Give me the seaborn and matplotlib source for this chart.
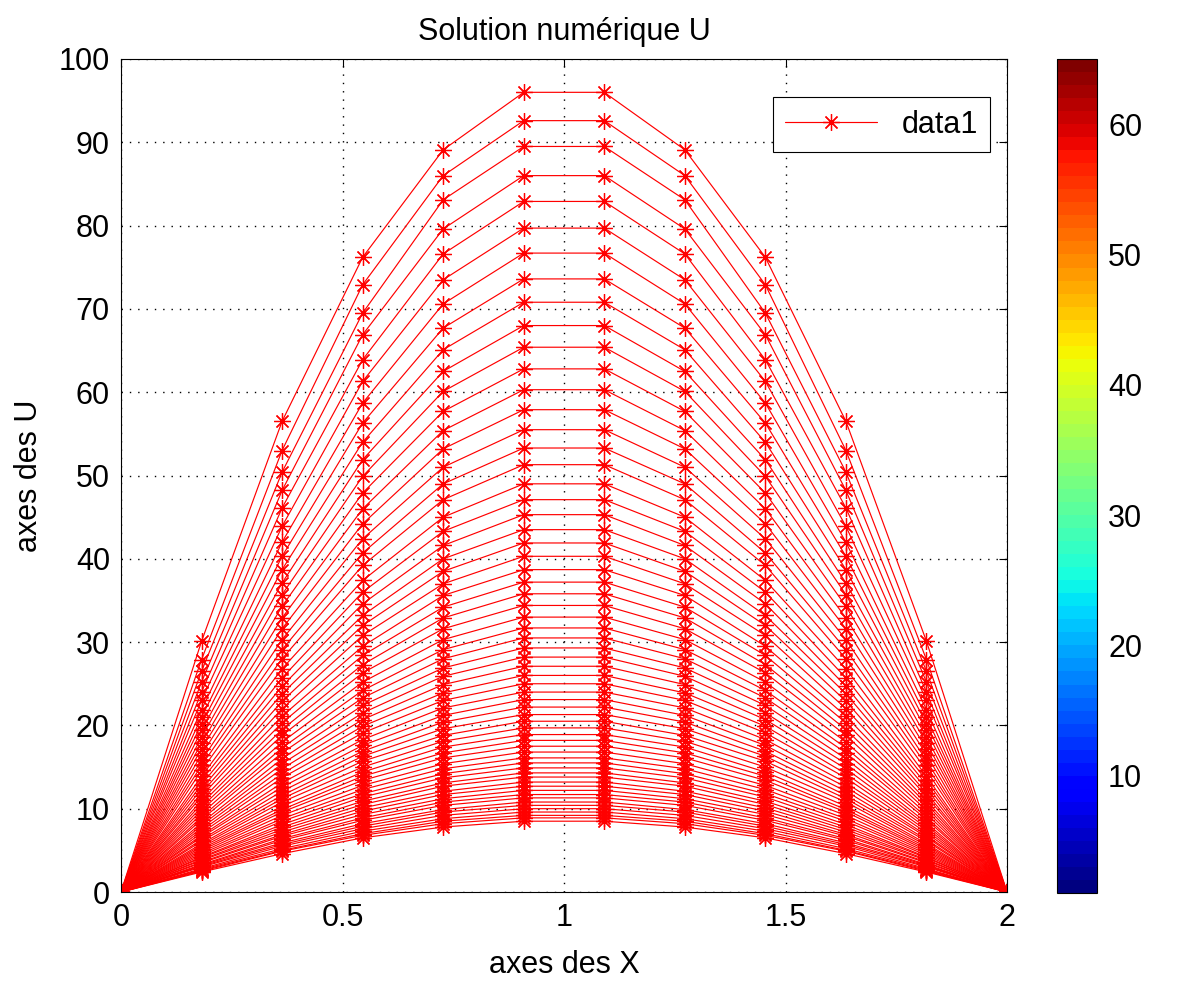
import matplotlib
matplotlib.use("Agg")

import matplotlib as mpl
import matplotlib.pyplot as plt
import pandas as pd
import seaborn as sns
from matplotlib.lines import Line2D


# x nodes of the grid (0 .. 2, 12 points)
x_nodes = [0.0, 0.1818, 0.3636, 0.5455, 0.7273, 0.9091,
           1.0909, 1.2727, 1.4545, 1.6364, 1.8182, 2.0]

# U read at the left half nodes, one value per time step (the right half is the mirror image)
u_x018 = [30.1, 27.9, 26.5, 25.2, 24.0, 23.0, 21.9, 21.0, 20.2, 19.4,
          18.6, 17.9, 17.2, 16.5, 15.8, 15.2, 14.6, 13.9, 13.4, 12.9,
          12.4, 11.9, 11.5, 11.0, 10.6, 10.2, 9.8, 9.4, 9.0, 8.7,
          8.3, 8.0, 7.7, 7.4, 7.1, 6.8, 6.6, 6.3, 6.1, 5.8,
          5.6, 5.4, 5.2, 5.0, 4.8, 4.6, 4.4, 4.2, 4.1, 3.9,
          3.8, 3.6, 3.5, 3.3, 3.2, 3.1, 3.0, 2.8, 2.7, 2.6,
          2.5, 2.4]
u_x036 = [56.5, 53.0, 50.4, 48.2, 46.1, 43.9, 42.0, 40.3, 38.7, 37.1,
          35.7, 34.3, 32.9, 31.6, 30.3, 29.1, 28.0, 26.8, 25.7, 24.7,
          23.8, 22.9, 22.0, 21.1, 20.3, 19.5, 18.8, 18.0, 17.3, 16.7,
          16.0, 15.4, 14.8, 14.2, 13.7, 13.1, 12.6, 12.1, 11.6, 11.2,
          10.8, 10.3, 9.9, 9.6, 9.2, 8.8, 8.5, 8.1, 7.8, 7.5,
          7.2, 6.9, 6.7, 6.4, 6.2, 5.9, 5.7, 5.5, 5.2, 5.0,
          4.9, 4.6]
u_x055 = [76.2, 72.9, 69.5, 66.9, 63.9, 61.3, 58.7, 56.3, 54.0, 51.9,
          49.9, 47.9, 46.0, 44.2, 42.4, 40.7, 39.2, 37.4, 36.0, 34.6,
          33.2, 32.0, 30.8, 29.5, 28.4, 27.3, 26.3, 25.2, 24.2, 23.3,
          22.4, 21.5, 20.7, 19.9, 19.1, 18.3, 17.6, 16.9, 16.3, 15.7,
          15.0, 14.4, 13.9, 13.4, 12.8, 12.3, 11.8, 11.4, 10.9, 10.5,
          10.1, 9.7, 9.3, 8.9, 8.6, 8.2, 7.9, 7.6, 7.3, 7.0,
          6.8, 6.5]
u_x073 = [89.1, 86.0, 83.1, 79.6, 76.6, 73.5, 70.6, 67.7, 65.1, 62.5,
          60.1, 57.7, 55.4, 53.2, 51.0, 49.0, 47.1, 45.0, 43.3, 41.6,
          40.0, 38.5, 37.0, 35.6, 34.2, 32.9, 31.6, 30.3, 29.1, 28.0,
          26.9, 25.9, 24.9, 23.9, 23.0, 22.1, 21.2, 20.4, 19.6, 18.8,
          18.1, 17.4, 16.7, 16.1, 15.4, 14.8, 14.2, 13.7, 13.1, 12.7,
          12.1, 11.7, 11.2, 10.8, 10.4, 9.9, 9.6, 9.2, 8.8, 8.5,
          8.2, 7.8]
u_x091 = [96.0, 92.6, 89.5, 86.0, 82.9, 79.7, 76.7, 73.6, 70.8, 68.0,
          65.4, 62.8, 60.3, 57.9, 55.5, 53.3, 51.3, 49.0, 47.1, 45.3,
          43.5, 41.9, 40.3, 38.7, 37.2, 35.8, 34.4, 33.0, 31.7, 30.5,
          29.3, 28.2, 27.1, 26.0, 25.0, 24.0, 23.1, 22.2, 21.3, 20.5,
          19.7, 18.9, 18.2, 17.5, 16.8, 16.1, 15.5, 14.9, 14.3, 13.8,
          13.2, 12.7, 12.2, 11.7, 11.3, 10.8, 10.4, 10.0, 9.6, 9.2,
          8.9, 8.5]

x_ticks = [0, 0.5, 1, 1.5, 2]
x_tick_labels = ["0", "0.5", "1", "1.5", "2"]
y_ticks = [0, 10, 20, 30, 40, 50, 60, 70, 80, 90, 100]
cbar_ticks = [10, 20, 30, 40, 50, 60]

ASTERISK = (8, 2, 0)
FONT = 22


def build_frame() -> pd.DataFrame:
    rows = []
    columns = zip(u_x018, u_x036, u_x055, u_x073, u_x091)
    for step, (a, b, c, d, e) in enumerate(columns):
        profile = [0.0, a, b, c, d, e, e, d, c, b, a, 0.0]
        for x, u in zip(x_nodes, profile):
            rows.append({"step": step, "x": x, "u": u})
    return pd.DataFrame(rows)


def main() -> None:
    sns.set_theme(style="white")
    plt.rcParams["font.family"] = ["Liberation Sans", "DejaVu Sans"]
    plt.rcParams["text.color"] = "black"
    plt.rcParams["axes.labelcolor"] = "black"

    frame = build_frame()

    fig = plt.figure(figsize=(11.79, 9.83), dpi=100)
    ax = fig.add_axes([121 / 1179, 91 / 983, 886 / 1179, 833 / 983])

    sns.lineplot(
        data=frame, x="x", y="u", units="step", estimator=None, sort=False,
        color="red", marker=ASTERISK, markersize=12, markeredgecolor="red",
        markeredgewidth=0.9, linewidth=0.85, legend=False, ax=ax,
    )

    ax.set_xlim(0, 2)
    ax.set_ylim(0, 100)
    ax.set_xticks(x_ticks)
    ax.set_xticklabels(x_tick_labels)
    ax.set_yticks(y_ticks)
    ax.tick_params(direction="in", length=6, width=0.8, top=True, right=True,
                   labelsize=FONT, colors="black", pad=8)
    ax.grid(True, color="black", linestyle=(0, (1, 5)), linewidth=1.0)
    ax.set_axisbelow(True)
    for spine in ax.spines.values():
        spine.set_color("black")
        spine.set_linewidth(0.8)

    ax.set_title("Solution numérique U", fontsize=FONT, pad=14, color="black")
    ax.set_xlabel("axes des X", fontsize=FONT)
    ax.set_ylabel("axes des U", fontsize=FONT)
    ax.xaxis.set_label_coords(0.5, -0.07)
    ax.yaxis.set_label_coords(-0.087, 0.5)

    handle = Line2D([], [], color="red", marker=ASTERISK, markersize=12,
                    markeredgewidth=0.9, linewidth=0.85, label="data1")
    leg = ax.legend(handles=[handle], loc="upper right",
                    bbox_to_anchor=(0.981, 0.954), borderaxespad=0,
                    fontsize=FONT, fancybox=False, framealpha=1,
                    edgecolor="black", handlelength=3.0)
    leg.get_frame().set_linewidth(0.8)

    cax = fig.add_axes([1057 / 1179, 90 / 983, 40 / 1179, 834 / 983])
    sm = mpl.cm.ScalarMappable(norm=mpl.colors.Normalize(1, 65),
                               cmap=plt.get_cmap("jet", 64))
    cbar = fig.colorbar(sm, cax=cax, ticks=cbar_ticks)
    cbar.outline.set_edgecolor("black")
    cbar.outline.set_linewidth(0.8)
    cax.tick_params(direction="in", length=6, width=0.8, left=True, right=True,
                    labelsize=FONT, colors="black", pad=8)

    fig.savefig("out.png", dpi=100)
    plt.close(fig)


if __name__ == "__main__":
    main()
